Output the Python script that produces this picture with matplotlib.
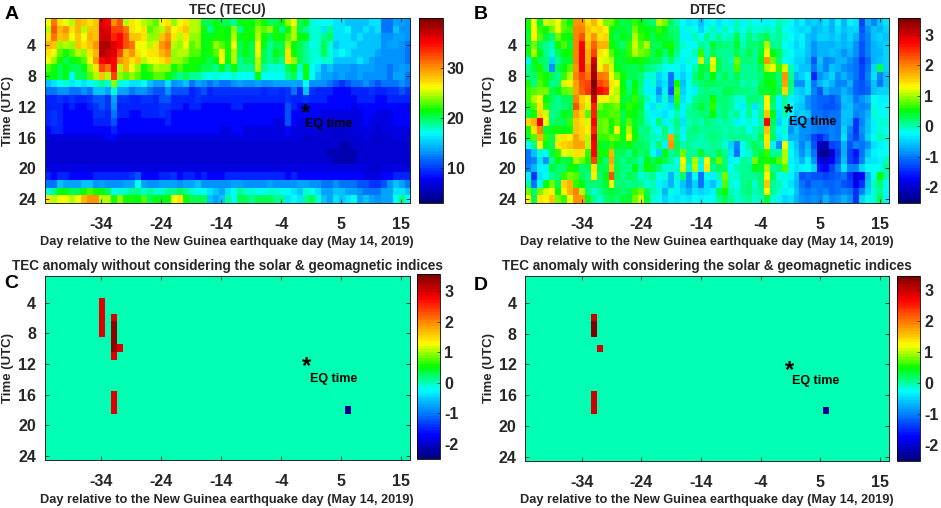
import numpy as np
import matplotlib
matplotlib.use("Agg")
import matplotlib.pyplot as plt
from matplotlib.colors import LinearSegmentedColormap

plt.rcParams['font.family'] = ['Liberation Sans', 'DejaVu Sans']
plt.rcParams['font.weight'] = 'bold'
plt.rcParams['axes.unicode_minus'] = False

W, H = 941, 508
day_ticks = [-34, -24, -14, -4, 6, 16]
day_labels = ['-34', '-24', '-14', '-4', '5', '15']
hour_ticks = [4, 8, 12, 16, 20, 24]
xlabel_text = 'Day relative to the New Guinea earthquake day (May 14, 2019)'

tec = [
[26,31,27,26,25,29,28,27,28,36, 35,30,32,25,27,26,25,24,23,26, 27,24,26,27,25,25,20,20,21,20, 20,19,21,22,21,23,22,20,20,21, 24,26,20,21,18,17,17,17,16,16, 15,15,15,15,16,16,12,12,14,14,13],
[25,32,29,30,27,29,25,28,28,37, 36,33,33,31,27,26,27,23,24,25, 29,26,27,28,25,25,22,19,21,22, 21,24,19,21,22,24,23,24,22,19, 22,25,20,19,18,18,16,19,16,16, 17,15,15,16,15,16,12,12,15,13,13],
[27,31,28,29,26,28,26,29,28,37, 37,34,35,32,28,28,27,24,24,28, 30,27,25,27,24,24,21,21,22,22, 21,25,21,22,21,25,22,20,22,21, 23,25,21,21,18,18,19,20,16,16, 16,15,16,15,15,15,13,13,14,14,13],
[29,28,24,25,24,28,27,28,30,38, 38,36,35,32,31,26,26,25,27,30, 31,25,24,26,23,24,21,22,24,23, 22,26,20,21,20,26,21,19,20,20, 25,21,20,19,17,18,20,18,15,16, 16,16,15,15,15,15,13,14,14,13,12],
[27,26,23,22,23,25,24,27,29,38, 37,36,33,28,30,27,26,27,27,29, 30,24,25,25,23,23,21,22,23,26, 22,25,20,21,20,26,20,19,21,20, 27,22,20,19,18,18,20,18,16,17, 16,15,15,15,15,14,13,13,13,13,12],
[26,24,22,20,21,22,23,26,30,35, 36,35,30,29,27,28,25,26,26,27, 28,24,24,23,22,22,21,20,21,26, 21,25,19,20,20,25,20,19,20,19, 27,24,20,19,18,17,18,18,15,15, 15,15,16,15,14,13,13,13,13,13,12],
[23,22,20,21,20,20,21,24,27,33, 31,35,25,29,26,24,22,23,25,24, 24,22,23,21,22,21,20,20,19,21, 19,22,19,19,19,25,19,18,18,18, 20,22,18,22,17,16,14,15,14,14, 14,13,14,14,14,13,13,12,13,14,13],
[21,21,20,21,17,20,20,23,25,28, 25,33,24,23,24,23,21,22,23,23, 22,20,19,20,19,19,18,17,18,17, 17,18,17,17,17,21,17,17,17,17, 19,20,17,21,17,15,14,14,13,14, 13,13,14,13,13,13,13,12,14,14,12],
[15,16,17,18,16,17,16,17,18,19, 18,24,18,17,16,16,17,15,14,14, 16,13,14,15,12,14,13,12,13,12, 12,13,14,13,13,14,13,13,14,14, 14,14,14,17,13,13,13,12,11,10, 11,12,12,13,12,11,12,12,12,13,12],
[12,12,13,13,12,12,13,12,15,15, 14,18,14,14,12,13,13,12,11,11, 13,11,11,11,9,10,11,9,10,10, 10,10,10,10,10,10,9,10,10,9, 10,12,9,15,10,9,9,9,8,8, 8,9,9,9,10,9,9,10,10,11,10],
[9,9,10,9,10,9,9,10,11,11, 10,14,10,10,9,9,10,10,9,11, 11,9,9,9,9,10,9,9,9,9, 9,9,9,9,9,9,9,9,9,9, 10,9,9,10,9,9,9,8,8,8, 8,8,9,9,9,8,8,9,9,9,9],
[9,9,9,8,9,8,8,9,10,11, 10,13,9,9,9,9,9,9,9,10, 10,9,9,8,9,9,8,8,8,8, 8,9,9,8,8,8,8,8,8,8, 11,9,8,8,8,8,8,8,8,8, 8,7,8,8,8,8,8,8,8,8,8],
[9,10,9,8,8,8,8,8,10,10, 9,12,9,9,8,8,9,9,9,10, 9,8,8,8,8,8,8,8,8,8, 8,8,8,8,8,8,8,8,8,8, 11,8,8,8,8,8,7,7,7,7, 7,7,7,8,8,7,7,7,8,8,8],
[9,10,9,8,8,8,8,8,9,9, 9,11,8,8,8,8,8,8,8,8, 9,8,8,8,8,8,8,8,8,8, 8,8,8,8,8,8,8,8,7,7, 11,8,7,7,7,7,7,7,7,7, 7,7,7,8,7,7,7,7,8,8,8],
[8,9,9,8,8,8,8,8,8,8, 8,9,8,8,8,8,8,8,8,8, 8,8,8,8,8,8,8,8,8,7, 7,8,8,7,7,7,7,7,7,7, 8,7,7,7,7,7,6,6,6,6, 6,7,7,7,7,6,7,7,7,7,7],
[7,7,7,7,7,7,7,7,7,7, 8,8,7,7,7,7,7,7,7,7, 7,7,7,7,7,7,7,7,7,7, 7,7,7,7,7,7,7,7,7,7, 7,7,7,6,6,6,6,6,6,6, 6,6,6,7,6,6,6,6,7,7,7],
[6,6,6,6,6,6,6,6,6,6, 6,6,6,6,6,6,6,6,6,6, 6,6,6,6,6,6,6,6,6,6, 6,6,6,6,6,6,6,6,6,6, 6,6,6,6,6,6,6,6,6,5, 5,6,6,6,6,6,6,6,6,6,6],
[6,6,6,6,6,6,6,6,6,6, 6,6,6,6,6,6,6,6,6,6, 6,6,6,6,6,6,6,6,6,6, 6,6,6,6,6,6,6,6,6,6, 6,6,6,6,6,6,6,5,5,5, 5,5,6,6,6,6,6,6,6,6,6],
[6,6,6,6,6,6,6,6,6,6, 6,6,6,6,6,6,6,6,6,6, 6,6,6,6,6,6,6,6,6,6, 6,6,6,6,6,6,6,6,6,6, 6,6,6,6,6,6,6,6,5,5, 5,5,6,6,6,6,6,6,6,6,6],
[7,7,7,7,7,7,7,7,7,7, 7,7,7,7,7,7,7,7,7,7, 7,7,7,7,7,7,7,7,7,7, 7,7,7,7,7,7,7,7,7,7, 7,7,7,7,7,7,7,7,7,7, 7,7,7,7,6,6,7,7,7,7,7],
[9,8,9,9,8,8,8,8,9,9, 9,9,9,9,10,11,8,8,8,9, 9,10,8,9,9,8,9,8,8,8, 9,9,9,9,9,9,9,9,9,9, 8,9,8,8,8,8,8,8,8,8, 8,8,8,7,7,7,8,8,9,9,9],
[12,12,15,14,14,14,15,15,13,14, 13,13,13,14,14,17,14,13,13,14, 14,14,13,14,14,15,13,13,13,13, 13,14,14,13,13,13,13,14,13,13, 13,13,14,14,13,13,12,12,13,12, 12,12,11,11,10,10,11,13,15,14,12],
[18,19,21,21,20,20,22,23,22,21, 20,17,18,18,19,19,18,19,18,18, 19,19,20,19,18,17,17,16,15,14, 16,17,19,18,18,17,17,18,18,17, 17,16,15,18,17,16,14,14,15,15, 14,14,13,12,12,12,14,14,16,16,15],
[27,25,26,26,25,26,29,30,30,25, 25,22,24,22,22,21,23,20,21,21, 21,26,27,22,20,20,20,15,14,15, 19,17,20,20,19,20,20,20,19,19, 16,17,16,19,20,18,15,14,16,15, 16,17,14,15,14,13,14,14,17,19,17],
]

dtec = [
[.6,1.2,.4,1.1,1.0,1.2,.8,.5,1.9,1.9, 1.4,1.7,1.3,.9,.9,.6,.3,.4,.7,.5, .3,.2,1.0,.9,.3,0,-.2,-.4,-.3,-.6, -.3,-.2,-.4,-.2,-.3,0,-.3,-.1,-.2,-.2, -.3,-.2,0,-.1,-.2,-.5,-.3,-.6,-.5,-.6, -.4,-.7,-.3,-.7,-.3,-.4,-1.3,-.7,-.9,-.6,-.4],
[.5,1.3,.7,.6,.9,1.2,.8,.7,2.0,2.0, 1.6,1.4,1.5,1.3,.6,.4,.4,.3,.9,.6, .5,.4,.7,.5,.2,.2,-.3,-.1,-.2,-.5, -.2,0,-.3,0,-.2,0,-.2,0,-.1,-.1, 0,-.1,.1,-.2,-.3,-.4,-.5,-.4,-.7,-.6, -.5,-.7,-.4,-.6,-.5,-.5,-1.2,-.8,-.6,-.7,-.5],
[.4,1.3,.8,.4,.2,.9,.6,.5,2.0,2.3, 1.5,1.9,1.4,1.5,.5,.3,.5,.4,1.0,.7, .6,.3,.5,.4,.3,.2,-.3,-.3,0,-.2, .1,-.1,.1,-.1,0,.3,-.1,.2,0,.2, .3,0,.1,-.1,-.2,-.4,-.3,-.6,-.7,-.5, -.5,-.6,-.5,-.7,-.5,-.7,-1.1,-.9,-.6,-.5,-.6],
[.4,.9,.3,.1,0,.6,.8,.4,2.0,2.7, 1.6,2.2,1.7,1.7,.6,.4,.2,.7,1.1,.8, 1.0,.3,.3,.5,.6,.2,-.1,-.2,-.2,.1, 0,.4,.2,.2,.1,.4,0,.2,.2,.3, 1.0,.1,.1,-.2,-.3,-.5,-.3,-.6,-.8,-.7, -.7,-.7,-.6,-.7,-.6,-.8,-1.2,-.9,-.7,-.6,-.5],
[.5,1.0,.5,.1,-.1,.3,.5,.6,2.0,2.8, 1.7,2.4,1.4,1.2,.8,.5,.4,.7,1.0,.9, .8,.3,.5,.2,.5,.1,-.2,-.2,0,.7, 0,.3,.1,.1,.1,.3,.1,.3,.1,.4, 1.2,.5,.3,-.1,-.2,-.4,-.4,-.6,-.8,-.7, -.7,-.6,-.7,-.8,-.7,-.8,-1.2,-.9,-.7,-.7,-.5],
[-.3,.5,.3,.2,-.5,.1,.4,.4,2.0,2.8, 1.7,3.0,1.2,1.1,1.0,.4,.4,.6,.5,.6, .4,.3,.3,0,.2,-.1,-.3,-.1,-.2,1.1, .1,1.2,.3,.1,0,.9,.2,.2,.1,.5, 1.9,.9,.2,-.2,-.3,-.5,-.5,-.7,-1.2,-.6, -.9,-.8,-.7,-.7,-.8,-1.0,-1.4,-1.1,-.7,-.6,-.5],
[.1,.4,.6,.2,-.8,.3,.5,.8,1.9,2.8, 1.9,3.2,1.3,1.7,1.1,.5,.4,.3,.3,.4, .2,.1,0,-.2,-.2,-.2,-.4,-.2,0,.4, .3,1.1,.3,.1,.1,.8,.1,.1,.1,.3, 1.0,1.2,.7,1.1,0,-.4,-.6,-.6,-1.0,-.7, -.9,-.6,-.7,-.8,-.9,-1.0,-1.3,-1.0,-.5,.3,-.5],
[.2,.2,.7,.6,.3,.1,.7,1.0,2.0,2.4, 2.1,3.3,2.1,2.0,1.2,.9,.6,.3,.3,.2, -.1,-.1,-.5,-.3,-1.0,-.3,-.5,-.3,.2,.4, .2,.5,.1,.3,.1,.3,.1,.1,.1,.2, .5,.4,.2,1.9,.1,-.7,-.5,-.3,-1.5,-.8, -.7,-.5,-.8,-.7,-.8,-1.0,-1.3,-.9,-.4,-.9,-.6],
[.6,.1,.8,.6,.1,.2,1.1,1.3,1.8,2.3, 2.4,3.5,2.4,2.2,1.4,1.2,.5,.1,.5,.2, -.3,-.1,-.6,-.4,-1.0,.6,-.6,-.2,.1,.2, .3,.3,.2,.2,.2,.2,0,.1,0,.3, .5,.6,.2,1.8,.2,-.8,-.8,-.4,-1.0,-.7, -.5,-.7,-.9,-.9,-.7,-1.1,-1.2,-1.0,-.6,-1.0,-.6],
[.7,.8,.9,.9,.3,.5,.8,.9,1.8,2.2, 2.5,3.4,2.7,2.6,1.3,1.0,.6,.2,.6,.1, -.3,-.3,-.8,-.3,-1.2,.8,-.5,-.2,-.3,.1, .2,.1,.1,.3,.3,.2,.2,.1,.1,.4, .4,.5,.3,1.5,.1,-.5,-.6,-.4,-.9,-1.2, -.7,-.8,-.8,-.7,-.8,-1.1,-1.2,-1.1,-.6,-.5,-.5],
[.7,1.0,1.2,.5,.3,.1,.3,.3,2.0,1.5, 1.3,3.0,1.3,1.3,1.0,1.1,.4,.4,.7,.3, 0,-.2,-.6,-.1,-.7,.7,-.4,-.2,.1,.2, .2,.6,.2,.2,.1,-.1,-.1,.2,.2,.1, 1.3,.3,-.3,.1,-.3,-.4,-.5,-.8,-1.0,-1.1, -1.1,-1.2,-1.0,-.6,-.7,-1.0,-.8,-.7,-.2,-.3,-.3],
[.4,.8,1.4,.7,.2,.1,.2,.3,2.3,1.6, 1.1,2.6,.9,.7,.8,.9,.5,.7,.6,.4, -.2,-.4,-.1,-.3,-.4,.3,-.3,0,.2,.4, .2,.7,.1,.2,.1,-.2,-.3,.1,-.4,0, 1.3,.2,-.3,.1,-.2,-.5,-.6,-.8,-1.0,-1.1, -1.2,-1.2,-1.1,-.7,-.6,-.8,-.9,-.8,-.1,-.3,-.2],
[.3,.6,1.5,1.1,.1,.2,.5,.4,1.8,1.5, .8,2.6,.7,.7,.8,.8,.3,.6,.5,.3, -.1,-.3,-.3,-.4,-.2,0,-.3,.1,.1,.2, .2,.5,.1,.2,0,.1,-.2,.1,-.2,.1, 1.6,.5,-.4,0,-.3,-.6,-.5,-.6,-1.0,-1.0, -1.1,-1.0,-1.0,-.6,-.6,-.9,-.8,-.7,-.1,-.2,-.2],
[1.5,1.7,2.8,1.2,.2,.3,.3,.7,1.6,1.4, 1.1,2.7,.8,.9,.6,.8,.4,.8,.4,.3, 0,-.2,.2,-.3,-.1,.2,-.4,0,.1,0, .2,.1,0,.1,0,-.3,-.2,-.1,-.2,0, 2.7,.3,-.5,-.2,-.7,-.8,-.7,-.8,-1.0,-.9, -1.0,-1.0,-1.0,-.6,-.7,-1.4,-.9,-.6,-.3,-.1,-.1],
[.6,1.4,2.0,.4,.5,.6,.5,.6,1.6,1.5, 1.3,2.6,.8,.9,.5,1.3,.5,1.0,.5,.1, .2,-.1,-.2,.2,-.2,.1,-.3,.1,.2,.1, .1,.1,.1,0,.1,0,.1,-.2,0,.1, 1.6,.2,-.3,-.1,-.8,-.6,-.8,-.8,-.9,-1.0, -1.0,-.9,-1.0,-.5,-.9,-1.4,-.8,-.6,-.3,-.1,-.2],
[.4,.8,1.7,.7,.3,1.1,1.4,1.3,1.8,1.5, 1.0,2.9,.7,.7,.9,.8,.5,1.2,.6,.2, .1,0,-.1,.1,1.8,.2,-.2,.1,.1,0, .1,.2,.1,0,.1,.1,.1,.1,0,.3, 1.4,.3,-.4,-.2,-.7,-.7,-.8,-.9,-1.3,-1.5, -1.2,-.9,-1.0,-.4,-1.0,-1.3,-.9,-.5,-.2,0,-.1],
[-.2,.1,1.3,.5,.3,1.4,1.5,1.6,1.8,1.8, 1.0,2.7,.5,.4,.7,.5,.4,.6,.3,.3, .2,-.1,.2,-.3,1.9,.3,0,.1,0,0, 0,.1,.1,-.1,-.5,-.9,-.2,.1,.3,.1, 1.4,-.3,-.8,1.2,-.3,-.6,-.9,-.7,-1.2,-2.1, -2.2,-1.3,-1.2,-.7,-1.2,-.9,-1.0,-.8,-.4,-.3,-.2],
[-1.0,-.6,-.1,-.2,.4,.7,1.2,1.1,1.4,1.4, .7,2.7,.6,.6,1.7,.3,.3,.1,.4,.2, .3,-.2,-.5,.5,.1,.2,.9,.1,.1,.4, .1,.1,.3,.1,-.4,-1.0,-.2,-.1,.2,.4, .7,.1,.1,1.0,-.2,-.5,-.8,-.6,-1.0,-2.3, -2.4,-2.0,-1.3,-.7,-1.3,-1.6,-1.0,-.6,-.3,-.2,-.2],
[-1.0,-.9,-.4,-.8,.1,.5,.3,.4,1.0,.9, .6,2.4,.5,.2,1.8,.3,.1,.3,.2,0, .5,.3,.5,.3,.1,-.2,1.2,.1,1.0,-.1, 1.3,.3,.9,.2,-.3,-.2,.1,0,.9,.5, .6,.5,.8,1.0,-.3,-.4,-.7,-.3,-.8,-1.9, -2.0,-1.7,-1.2,-.6,-1.3,-1.5,-.9,-.4,-.4,-.3,0],
[-.9,-.7,-.3,-.3,.4,.2,.2,.6,.5,.2, .3,1.4,.3,.3,1.6,.3,.2,.1,.5,.1, .6,.4,.2,-.1,-.1,-.1,1.1,-.1,1.0,-.2, 1.4,.1,.3,.2,-.2,0,.1,.1,.5,.4, 1.0,.1,.2,.8,-.2,-.4,-.3,-.2,-.5,-1.6, -1.7,-1.3,-.9,-.4,-.9,-.9,-.5,-.2,-.2,-.2,.1],
[-.3,-1.4,-.4,-.2,.1,.2,.7,.9,.8,.3, .1,1.3,.2,.5,2.3,.3,.1,.3,.2,-.1, 0,.1,-.2,-.1,-.7,-.1,.2,-.8,-.2,-1.0, -.2,-.3,0,.9,-.1,-.1,.1,.1,.1,.2, 1.3,.3,-.2,-.1,-.3,-.6,-1.2,-1.1,-1.2,-1.2, -1.3,-1.2,-1.1,-1.0,-1.4,-1.9,-1.7,-.7,-.2,.6,0],
[.1,-1.0,-.2,.5,.9,.3,1.5,1.7,.7,.5, .2,.2,.2,.4,1.2,.2,.2,.1,.2,.1, -.1,0,-.3,-.4,-.7,-.3,-.6,-.8,-.5,-1.0, -.4,-.6,-.3,.8,-.1,-.2,.1,.2,-.1,.2, 1.6,.1,0,-.2,-.4,-.7,-1.0,-1.2,-1.0,-1.0, -1.1,-1.1,-1.0,-1.2,-1.3,-1.8,-1.4,-.6,0,.2,-.2],
[.9,.2,.9,1.1,1.3,.5,1.3,1.7,2.0,1.0, .2,-.1,.1,.3,.4,.3,.2,.3,.7,.9, .3,0,-.1,-.7,-.1,-.3,-.5,-.7,-.4,-.5, -.4,-.3,.3,.6,0,-.1,.1,.2,0,.1, 1.2,.1,-.1,-.3,-.2,-.6,-.9,-1.0,-.9,-1.0, -.9,-1.1,-1.0,-.9,-1.0,-1.4,-.9,-.5,-.1,.1,-.2],
[1.3,.3,1.4,1.3,1.6,.9,.7,1.2,1.9,1.9, .5,.1,-.1,.2,.3,.2,.4,.4,.9,1.1, .4,-.1,-.2,-.5,-.3,-.4,-.3,-.4,-.2,-.3, -.2,-.2,.1,.3,.1,-.1,0,.1,-.1,0, .4,-.1,-.3,-.5,-.4,-.7,-.8,-.9,-.8,-.9, -.7,-.9,-.8,-.7,-.8,-1.4,-.5,-.2,-.1,.3,-.3],
]

cell_hours_c = {9: [4, 5, 6, 7, 8], 11: [6, 16, 17, 18, 11], 12: [10]}
dark_c = {11: [7, 8, 9, 10]}
cell_hours_d = {11: [6, 16, 17, 18], 12: [10]}
dark_d = {11: [7, 8]}
neg_col = 50
neg_hour = 18
bg_val, hot_val, dark_val, neg_val = 0.0, 2.95, 3.45, -2.35

ref_jet = LinearSegmentedColormap('ref_jet', {
    'red':   [(0, 0, 0), (.5, 0, 0), (.625, 1, 1), (.875, 1, 1), (1, .5, .5)],
    'green': [(0, 0, 0), (.125, 0, 0), (.375, 1, 1), (.625, 1, 1), (.875, 0, 0), (1, 0, 0)],
    'blue':  [(0, .5, .5), (.125, 1, 1), (.375, 1, 1), (.5, 0, 0), (1, 0, 0)],
}, N=64)


def anomaly(hot, dark):
    m = np.full((24, 61), bg_val)
    for col, hs in hot.items():
        for h in hs:
            m[h - 1, col] = hot_val
    for col, hs in dark.items():
        for h in hs:
            m[h - 1, col] = dark_val
    m[neg_hour - 1, neg_col] = neg_val
    return m


def box(l, t, r, b):
    return [l / W, 1 - b / H, (r - l) / W, (b - t) / H]


INK = '#262626'
fig = plt.figure(figsize=(W / 100, H / 100), dpi=100)

panels = [
 dict(d=np.array(tec, float), lim=(3.1, 40), ax=(44.5, 18.5, 410, 203), cb=(419, 18.3, 442.5, 202.5),
      ct=[10, 20, 30], title='TEC (TECU)', tc=227, ty=10, letter='A', lx=4.5, ly=14.5,
      star=(0.1, 12.5), eq=(0.0, 14.25), xl=(227, 241.5), yl=8),
 dict(d=np.array(dtec, float), lim=(-2.5, 3.55), ax=(525, 18.5, 889, 203), cb=(897.7, 18.3, 920, 202.5),
      ct=[-2, -1, 0, 1, 2, 3], title='DTEC', tc=707, ty=10, letter='B', lx=474, ly=14.5,
      star=(0.7, 12.5), eq=(0.7, 13.9), xl=(707, 241.5), yl=489),
 dict(d=anomaly(cell_hours_c, dark_c), lim=(-2.5, 3.55), ax=(44.5, 275.7, 410, 460), cb=(416.7, 274.3, 440, 459),
      ct=[-2, -1, 0, 1, 2, 3], title='TEC anomaly without considering the solar & geomagnetic indices', tc=227, ty=266,
      letter='C', lx=4.5, ly=283.5, star=(0.3, 12.0), eq=(0.85, 13.9), xl=(227, 499.5), yl=8),
 dict(d=anomaly(cell_hours_d, dark_d), lim=(-2.5, 3.45), ax=(525, 275.7, 889, 461), cb=(896.7, 275.7, 920, 461),
      ct=[-2, -1, 0, 1, 2, 3], title='TEC anomaly with considering the solar & geomagnetic indices', tc=707, ty=266,
      letter='D', lx=474, ly=285, star=(0.75, 12.4), eq=(1.2, 14.2), xl=(707, 499.5), yl=489),
]

for p in panels:
    ax = fig.add_axes(box(*p['ax']))
    im = ax.imshow(p['d'], cmap=ref_jet, vmin=p['lim'][0], vmax=p['lim'][1], aspect='auto',
                   extent=(-43.5, 17.5, 24.5, 0.5), interpolation='nearest')
    ax.set_xticks(day_ticks, day_labels)
    ax.set_yticks(hour_ticks)
    ax.tick_params(direction='in', length=3, width=0.6, top=True, right=True, labelsize=11.5,
                   labelcolor=INK, color=INK)
    ax.tick_params(axis='x', pad=10)
    ax.tick_params(axis='y', pad=6)
    for s in ax.spines.values():
        s.set_linewidth(0.7)
        s.set_color(INK)
    ax.text(p['star'][0], p['star'][1], '*', fontsize=17, ha='center', va='center_baseline', color='black')
    ax.text(p['eq'][0], p['eq'][1], 'EQ time', fontsize=9, ha='left', va='center', color='black')

    cax = fig.add_axes(box(*p['cb']))
    cb = fig.colorbar(im, cax=cax)
    cb.set_ticks(p['ct'])
    cax.tick_params(direction='in', length=2, width=0.5, labelsize=11.5, labelcolor=INK, color=INK, pad=3)
    cb.outline.set_linewidth(0.6)

    fig.text(p['tc'] / W, 1 - p['ty'] / H, p['title'], fontsize=9.85, ha='center', va='center', color=INK)
    fig.text(p['xl'][0] / W, 1 - p['xl'][1] / H, xlabel_text, fontsize=9.15, ha='center', va='center', color=INK)
    fig.text(p['yl'] / W, 1 - (p['ax'][1] + p['ax'][3]) / 2 / H, 'Time (UTC)', fontsize=9.5, rotation=90,
             ha='center', va='center', color=INK)
    fig.text(p['lx'] / W, 1 - p['ly'] / H, p['letter'], fontsize=14, ha='left', va='center', color='black')

fig.savefig('out.png', dpi=100)
